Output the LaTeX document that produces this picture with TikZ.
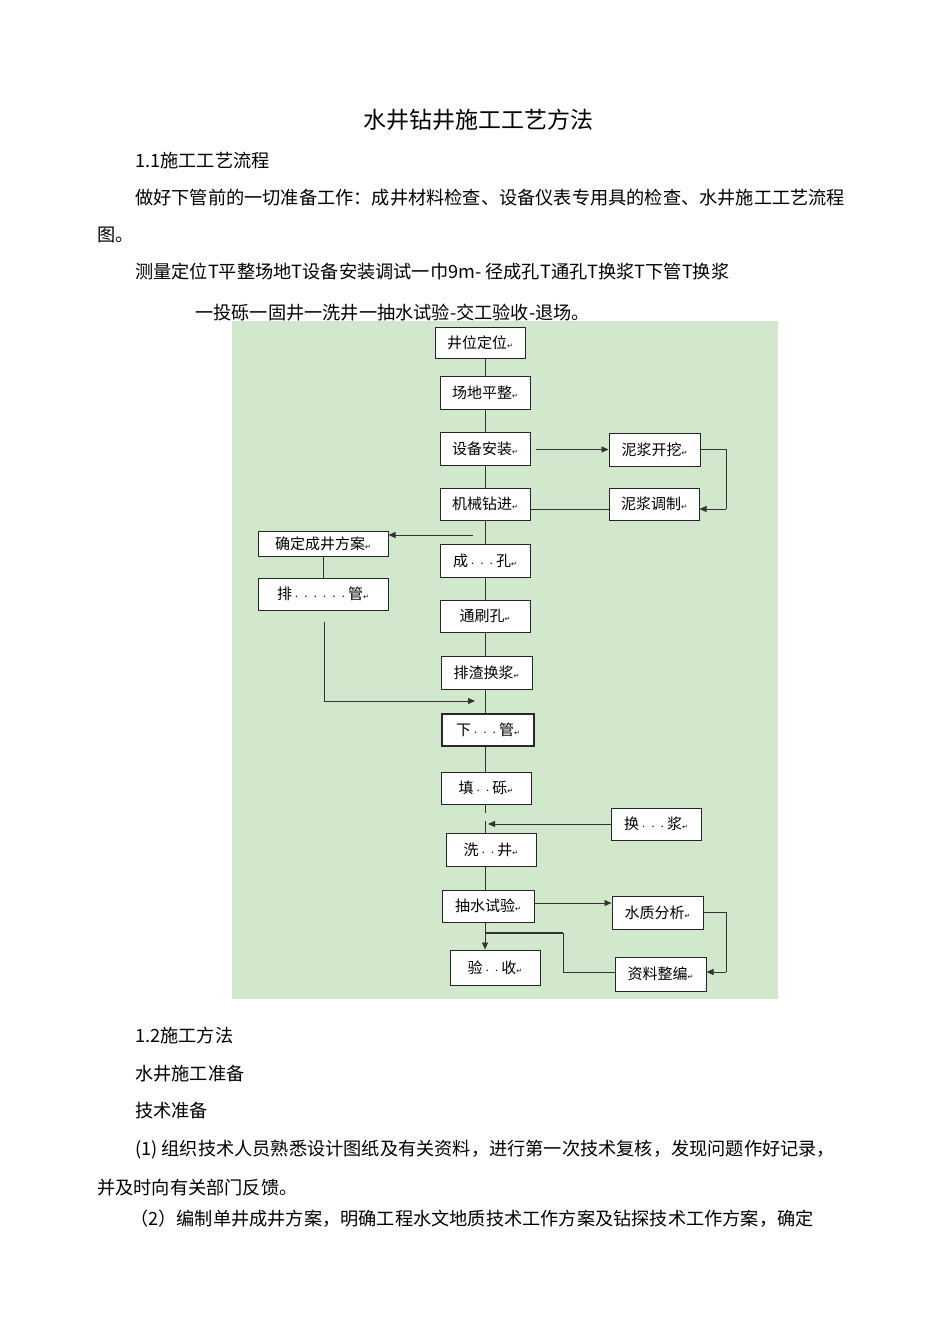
\documentclass[tikz,border=0pt]{standalone}
\usepackage{fontspec}
\setmainfont{Noto Sans CJK SC}
\newfontfamily\dvs{DejaVu Sans}
\usetikzlibrary{arrows.meta}
\definecolor{bg}{RGB}{209,232,205}
\tikzset{
 bx/.style={draw=black!85,line width=1pt,fill=white,inner sep=0pt,font=\fontsize{15}{15}\selectfont},
 ln/.style={draw=black!80,line width=0.9pt},
 ar/.style={ln,-{Triangle[length=7pt,width=6pt]}},
 tx/.style={anchor=west,inner sep=0pt,font=\fontsize{18.2}{19}\selectfont}
}
\newcommand{\rt}{{\dvs\fontsize{7}{7}\selectfont↵}}
\newcommand{\dt}{{\fontsize{7}{7}\selectfont\,·\,}}
\newcommand{\B}[6]{\node[bx,minimum width=#4-#2,minimum height=#5-#3] (#1) at ({(#2+#4)/2},{(#3+#5)/2}) {#6\rt};}
\begin{document}
\begin{tikzpicture}[x=1pt,y=-1pt]
\useasboundingbox (0,0) rectangle (950,1344);
\fill[white] (0,0) rectangle (950,1344);
\node[inner sep=0pt,font=\fontsize{23}{24}\selectfont] (title) at (478,120) {水井钻井施工工艺方法};
\node[tx] (t1) at (135,161) {1.1施工工艺流程};
\node[tx] (t2) at (135,198) {做好下管前的一切准备工作：成井材料检查、设备仪表专用具的检查、水井施工工艺流程};
\node[tx] (t3) at (97,235) {图。};
\node[tx] (t4) at (135,272) {测量定位T平整场地T设备安装调试一巾9m- 径成孔T通孔T换浆T下管T换浆};
\node[tx] (t5) at (195,313) {一投砾一固井一洗井一抽水试验-交工验收-退场。};
\node[tx] (t6) at (135,1036) {1.2施工方法};
\node[tx] (t7) at (135,1074) {水井施工准备};
\node[tx] (t8) at (135,1111) {技术准备};
\node[tx] (t9) at (135,1150) {(1) 组织技术人员熟悉设计图纸及有关资料，进行第一次技术复核，发现问题作好记录，};
\node[tx] (t10) at (97,1188) {并及时向有关部门反馈。};
\node[tx] (t11) at (130,1219) {（2）编制单井成井方案，明确工程水文地质技术工作方案及钻探技术工作方案，确定};
\fill[bg] (232,321) rectangle (778,999);
\B{a}{435}{327}{525}{358}{井位定位}
\B{b}{440}{376}{530}{409}{场地平整}
\B{c}{440}{432}{530}{465}{设备安装}
\B{d}{609}{433}{700}{466}{泥浆开挖}
\B{e}{440}{488}{530}{520}{机械钻进}
\B{f}{609}{488}{699}{520}{泥浆调制}
\B{g}{258}{531}{388}{556}{确定成井方案}
\B{h}{440}{544}{530}{577}{成\dt\dt\dt 孔}
\B{i}{258}{578}{388}{610}{排\dt\dt\dt\dt\dt\dt 管}
\B{j}{440}{600}{530}{632}{通刷孔}
\B{k}{441}{656}{532}{689}{排渣换浆}
\node[bx,line width=1.6pt,minimum width=92,minimum height=32] (l) at (488,730) {下\dt\dt\dt 管\rt};
\B{m}{441}{772}{531}{804}{填\dt\dt 砾}
\B{n}{611}{808}{701}{840}{换\dt\dt\dt 浆}
\B{o}{446}{833}{536}{866}{洗\dt\dt 井}
\B{p}{442}{890}{534}{922}{抽水试验}
\B{q}{612}{896}{703}{929}{水质分析}
\B{r}{450}{950}{540}{985}{验\dt\dt 收}
\B{s}{615}{957}{706}{991}{资料整编}
\coordinate (cx) at (485,0);
\draw[ln] (a.south-|cx) -- (b.north-|cx);
\draw[ln] (b.south-|cx) -- (c.north-|cx);
\draw[ln] (c.south-|cx) -- (e.north-|cx);
\draw[ln] (e.south-|cx) -- (h.north-|cx);
\draw[ln] (h.south-|cx) -- (j.north-|cx);
\draw[ln] (j.south-|cx) -- (k.north-|cx);
\draw[ln] (k.south-|cx) -- (l.north-|cx);
\draw[ln] (l.south-|cx) -- (m.north-|cx);
\draw[ln] (m.south-|cx) -- ++(0,8);
\draw[ln] (o.north-|cx) -- ++(0,-12);
\draw[ar] ([xshift=5pt]c.east|-d.west) -- (d.west);
\draw[ln] (d.east) -- (726,449.5) -- (726,509);
\draw[ar] (726,509) -- (f.east|-0,509);
\draw[ln] (f.west|-0,509) -- (e.east|-0,509);
\draw[ar] (473,535) -- (g.east|-0,535);
\draw[ln] (g.south) -- (i.north);
\coordinate (pl) at (324,622);
\draw[ar] (pl) -- (324,701) -- (475,701);
\draw[ar] (n.west) -- (488,824);
\draw[ln] (o.south-|cx) -- (p.north-|cx);
\draw[ar] (p.east|-0,903) -- (q.west|-0,903);
\draw[ln] (q.east) -- (726,912.5) -- (726,972);
\draw[ar] (726,972) -- (s.east|-0,972);
\draw[ln] (s.west|-0,972) -- (563,972) -- (563,933);
\draw[ln,line width=1.6pt] (563,933) -- (cx|-0,933);
\draw[ar] (p.south-|cx) -- (cx|-r.north);
\end{tikzpicture}
\end{document}
